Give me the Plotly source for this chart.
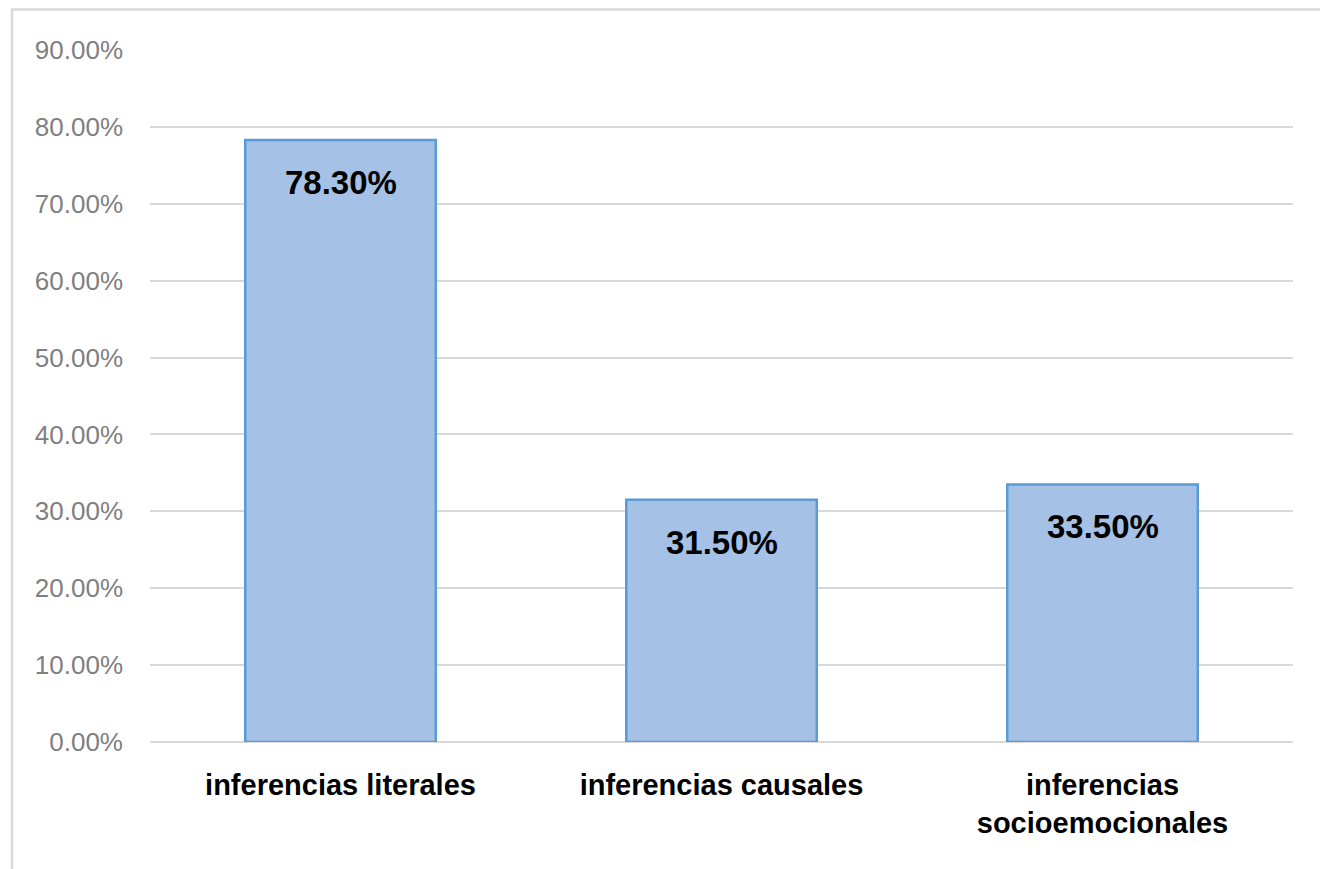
import plotly.graph_objects as go

categories = ["inferencias literales", "inferencias causales", "inferencias<br>socioemocionales"]
values = [78.3, 31.5, 33.5]
labels = ["78.30%", "31.50%", "33.50%"]
tick_vals = [0, 10, 20, 30, 40, 50, 60, 70, 80, 90]
tick_text = ["0.00%", "10.00%", "20.00%", "30.00%", "40.00%", "50.00%", "60.00%", "70.00%", "80.00%", "90.00%"]

FONT = "Liberation Sans, Arial, sans-serif"

fig = go.Figure()
fig.add_trace(go.Bar(
    x=categories, y=values,
    width=0.5,
    marker=dict(color="#a5c2e6", line=dict(color="#5b9bd5", width=2.5)),
    hoverinfo="skip",
))

for c, v, t in zip(categories, values, labels):
    fig.add_annotation(x=c, y=v, text="<b>" + t + "</b>", showarrow=False,
                       yanchor="top", yshift=-22,
                       font=dict(family=FONT, size=33, color="#000000"))

# outer chart border (page offset of 8px compensated in margins)
fig.add_shape(type="rect", xref="paper", yref="paper",
              x0=-0.1207, x1=1.0280, y0=-0.25, y1=1.0585,
              line=dict(color="#d9d9d9", width=2.5), fillcolor="rgba(0,0,0,0)", layer="below")

fig.update_layout(
    width=1328, height=869,
    margin=dict(l=142, r=43, t=42, b=135),
    paper_bgcolor="white", plot_bgcolor="white",
    showlegend=False,
    xaxis=dict(
        showgrid=False, showline=False, zeroline=False,
        tickfont=dict(family=FONT, size=29, color="#000000"),
        ticklabelstandoff=23,
        tickprefix="<b>", ticksuffix="</b>",
    ),
    yaxis=dict(
        range=[0, 90], tickvals=tick_vals, ticktext=tick_text,
        showgrid=True, gridcolor="#d9d9d9", gridwidth=1.5,
        zeroline=True, zerolinecolor="#d9d9d9", zerolinewidth=1.5,
        showline=False,
        tickfont=dict(family=FONT, size=26, color="#7f7f7f"),
        ticklabelstandoff=26,
    ),
)

fig.write_html("out.html")
